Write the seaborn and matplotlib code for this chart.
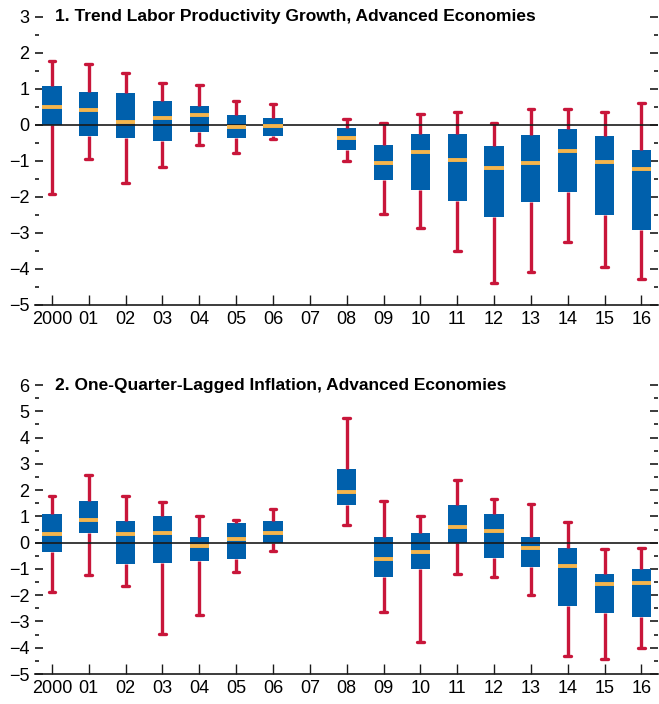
import matplotlib
matplotlib.use("Agg")
import matplotlib.pyplot as plt
from matplotlib.ticker import MultipleLocator
from matplotlib.transforms import blended_transform_factory
import seaborn as sns

sns.set_style("white")
plt.rcParams['font.family'] = ['Liberation Sans', 'DejaVu Sans']
plt.rcParams['text.color'] = 'black'
plt.rcParams['xtick.color'] = 'black'
plt.rcParams['ytick.color'] = 'black'

# years (07 has no data)
years = ["2000", "01", "02", "03", "04", "05", "06", "07",
         "08", "09", "10", "11", "12", "13", "14", "15", "16"]

# Panel 1: trend labor productivity growth (None = no box)
prod_whishi = [1.78, 1.69, 1.44, 1.16, 1.11, 0.66, 0.57, None,
               0.17, 0.05, 0.30, 0.35, 0.06, 0.44, 0.44, 0.36, 0.62]
prod_q3 = [1.08, 0.92, 0.88, 0.67, 0.53, 0.27, 0.19, None,
           -0.08, -0.56, -0.26, -0.26, -0.58, -0.28, -0.11, -0.31, -0.70]
prod_med = [0.51, 0.42, 0.07, 0.19, 0.28, -0.06, -0.03, None,
            -0.37, -1.06, -0.75, -0.97, -1.19, -1.06, -0.73, -1.04, -1.22]
prod_q1 = [0.00, -0.30, -0.35, -0.44, -0.19, -0.35, -0.30, None,
           -0.69, -1.52, -1.82, -2.10, -2.57, -2.15, -1.85, -2.49, -2.91]
prod_whislo = [-1.93, -0.94, -1.60, -1.16, -0.56, -0.78, -0.38, None,
               -0.99, -2.47, -2.86, -3.50, -4.38, -4.09, -3.25, -3.94, -4.29]

# Panel 2: one-quarter-lagged inflation
infl_whishi = [1.76, 2.56, 1.78, 1.56, 1.03, 0.85, 1.27, None,
               4.76, 1.60, 1.02, 2.37, 1.68, 1.46, 0.79, -0.23, -0.19]
infl_q3 = [1.09, 1.57, 0.81, 1.02, 0.20, 0.74, 0.81, None,
           2.79, 0.20, 0.36, 1.42, 1.08, 0.20, -0.22, -1.19, -1.00]
infl_med = [0.33, 0.88, 0.34, 0.38, -0.11, 0.13, 0.38, None,
            1.93, -0.62, -0.34, 0.58, 0.43, -0.20, -0.90, -1.56, -1.55]
infl_q1 = [-0.34, 0.38, -0.82, -0.79, -0.69, -0.61, -0.03, None,
           1.45, -1.29, -0.99, 0.00, -0.57, -0.91, -2.40, -2.66, -2.82]
infl_whislo = [-1.89, -1.24, -1.65, -3.49, -2.75, -1.12, -0.30, None,
               0.69, -2.63, -3.79, -1.21, -1.32, -2.01, -4.33, -4.42, -4.02]

BLUE = "#0060AC"
RED = "#C8163A"
ORANGE = "#F5B54C"


def draw_panel(ax, title, whishi, q3, med, q1, whislo, ylim):
    stats, pos = [], []
    for i in range(len(years)):
        if med[i] is None:
            continue
        stats.append(dict(med=med[i], q1=q1[i], q3=q3[i],
                          whislo=whislo[i], whishi=whishi[i], fliers=[]))
        pos.append(i)
    ax.bxp(stats, positions=pos, widths=0.52, patch_artist=True,
           showfliers=False, capwidths=0.18,
           boxprops=dict(facecolor=BLUE, edgecolor=BLUE, linewidth=0),
           whiskerprops=dict(color=RED, linewidth=2.4, solid_capstyle="butt"),
           capprops=dict(color=RED, linewidth=2.4),
           medianprops=dict(color=ORANGE, linewidth=2.8, zorder=4))
    ax.axhline(0, color="#1a1a1a", linewidth=1.2, zorder=3)

    ax.set_xlim(-0.46, 16.45)
    ax.set_ylim(*ylim)
    ax.set_xticks(range(len(years)))
    ax.set_xticklabels(years)
    ax.yaxis.set_major_locator(MultipleLocator(1))
    ax.yaxis.set_minor_locator(MultipleLocator(0.5))

    for s in ["top", "left", "right"]:
        ax.spines[s].set_visible(False)
    ax.spines["bottom"].set_color("#1a1a1a")
    ax.spines["bottom"].set_linewidth(1.2)

    ax.tick_params(axis="x", direction="in", length=7, width=1, color="#1a1a1a",
                   bottom=True, labelsize=13, pad=4)
    ax.tick_params(axis="y", which="major", direction="in", length=6, width=1.2,
                   color="#1a1a1a", left=True, right=True, labelsize=13, pad=4)
    ax.tick_params(axis="y", which="minor", direction="in", length=3, width=1.2,
                   color="#1a1a1a", left=True, right=True)
    ax.grid(False)
    tr = blended_transform_factory(ax.transAxes, ax.transData)
    ax.text(0.032, ylim[1], title, transform=tr, color="black",
            fontsize=12.5, fontweight="bold", va="center", ha="left")


fig = plt.figure(figsize=(6.59, 7.04), dpi=100)
ax1 = fig.add_axes([0.0531, 0.5668, 0.9454, 0.4091])
ax2 = fig.add_axes([0.0531, 0.0426, 0.9454, 0.4105])

draw_panel(ax1, "1. Trend Labor Productivity Growth, Advanced Economies",
           prod_whishi, prod_q3, prod_med, prod_q1, prod_whislo, (-5, 3))
draw_panel(ax2, "2. One-Quarter-Lagged Inflation, Advanced Economies",
           infl_whishi, infl_q3, infl_med, infl_q1, infl_whislo, (-5, 6))

fig.savefig("out.png", dpi=100)
